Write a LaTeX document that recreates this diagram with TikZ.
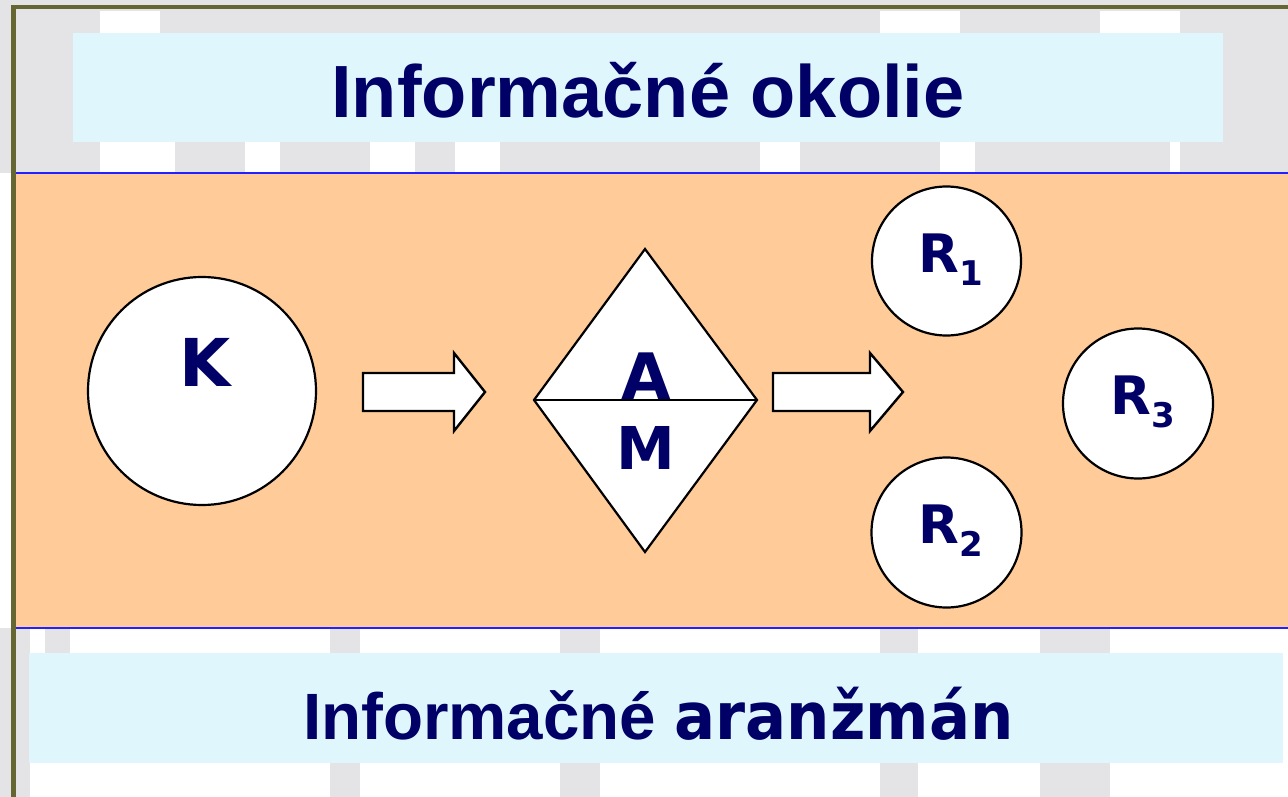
\documentclass[tikz,border=0pt]{standalone}
\usepackage{fontspec}
\usepackage{graphicx}
\setmainfont{Liberation Sans}
\newfontfamily\tah{DejaVu Sans}
\definecolor{olive}{HTML}{666633}
\definecolor{band}{HTML}{FFCC99}
\definecolor{pale}{HTML}{DFF7FC}
\definecolor{navy}{HTML}{000066}
\definecolor{wm}{HTML}{E4E4E6}
\definecolor{bline}{HTML}{2222FF}
\begin{document}
\begin{tikzpicture}[x=1pt,y=-1pt,
  shape1/.style={draw=black,fill=white,line width=2.2pt},
  blockarrow/.style={draw=black,fill=white,line width=2.4pt,line join=miter},
  lbl/.style={text=navy,font=\tah\bfseries,inner sep=0pt,anchor=base},
  title/.style={text=navy,inner sep=0pt,anchor=base}]
\useasboundingbox (0,0) rectangle (1288,797);
% faint background graphic
\fill[wm] (0,0) rectangle (1288,173);
\fill[white] (100,142) rectangle (175,173);
\fill[white] (245,142) rectangle (280,173);
\fill[white] (370,142) rectangle (415,173);
\fill[white] (455,142) rectangle (500,173);
\fill[white] (760,142) rectangle (800,173);
\fill[white] (940,142) rectangle (975,173);
\fill[white] (1170,142) rectangle (1180,173);
\fill[white] (100,11) rectangle (160,33);
\fill[white] (880,11) rectangle (960,33);
\fill[white] (1100,11) rectangle (1180,33);
\fill[wm] (0,628) rectangle (30,797);
\fill[wm] (45,628) rectangle (70,653);
\fill[wm] (330,628) rectangle (360,797);
\fill[wm] (560,628) rectangle (600,797);
\fill[wm] (880,628) rectangle (918,797);
\fill[wm] (1040,628) rectangle (1110,653);
\fill[wm] (1040,763) rectangle (1110,797);
% cyan title boxes
\fill[pale] (73,33) rectangle (1223,142);
\fill[pale] (29,653) rectangle (1283,763);
% orange band
\fill[band] (15,173) rectangle (1288,628);
\draw[bline,line width=2.2pt] (15,173) -- (1288,173);
\draw[bline,line width=2.2pt] (15,628) -- (1288,628);
% frame
\draw[olive,line width=4.5pt] (13.5,797) -- (13.5,7) -- (1288,7);
% titles
\node[title,font=\bfseries\fontsize{74}{80}\selectfont] (t1) at (648,118) {Informačné okolie};
\node[title,font=\bfseries\fontsize{65.5}{70}\selectfont,anchor=base west] (t2) at (303,739) {Informačné \scalebox{0.93}[1]{\tah aranžmán}};
% K circle
\node[shape1,circle,minimum size=228pt,inner sep=0pt] (K) at (202,391) {};
\node[lbl,font=\tah\bfseries\fontsize{66}{70}\selectfont] (Kt) at (205,386) {K};
% arrows
\draw[blockarrow] (363,373) -- (454,373) -- (454,353) -- (485,392) -- (454,431) -- (454,411) -- (363,411) -- cycle;
\draw[blockarrow] (773,373) -- (870,373) -- (870,353) -- (903,392) -- (870,431) -- (870,411) -- (773,411) -- cycle;
% diamond
\coordinate (dt) at (645,249);
\coordinate (dr) at (757,400);
\coordinate (db) at (645,552);
\coordinate (dl) at (534,400);
\draw[shape1,line join=miter] (dt) -- (dr) -- (db) -- (dl) -- cycle;
\draw[black,line width=2.2pt] (dl) -- (dr);
\node[lbl,font=\tah\bfseries\fontsize{64}{70}\selectfont] (A) at (646,399) {A};
\node[lbl,font=\tah\bfseries\fontsize{59}{70}\selectfont] (M) at (646,469) {M};
% R circles
\node[shape1,circle,minimum size=149pt,inner sep=0pt] (R1) at (946.5,261) {};
\node[shape1,circle,minimum size=150pt,inner sep=0pt] (R2) at (946.5,532.5) {};
\node[shape1,circle,minimum size=150pt,inner sep=0pt] (R3) at (1138,403.5) {};
\node[lbl,anchor=base west,font=\tah\bfseries\fontsize{53}{60}\selectfont] (R1t) at (918,272) {R\raisebox{-13pt}{\fontsize{34}{40}\selectfont 1}};
\node[lbl,anchor=base west,font=\tah\bfseries\fontsize{53}{60}\selectfont] (R2t) at (918,543) {R\raisebox{-13pt}{\fontsize{34}{40}\selectfont 2}};
\node[lbl,anchor=base west,font=\tah\bfseries\fontsize{53}{60}\selectfont] (R3t) at (1110,414) {R\raisebox{-13pt}{\fontsize{34}{40}\selectfont 3}};
\end{tikzpicture}
\end{document}
